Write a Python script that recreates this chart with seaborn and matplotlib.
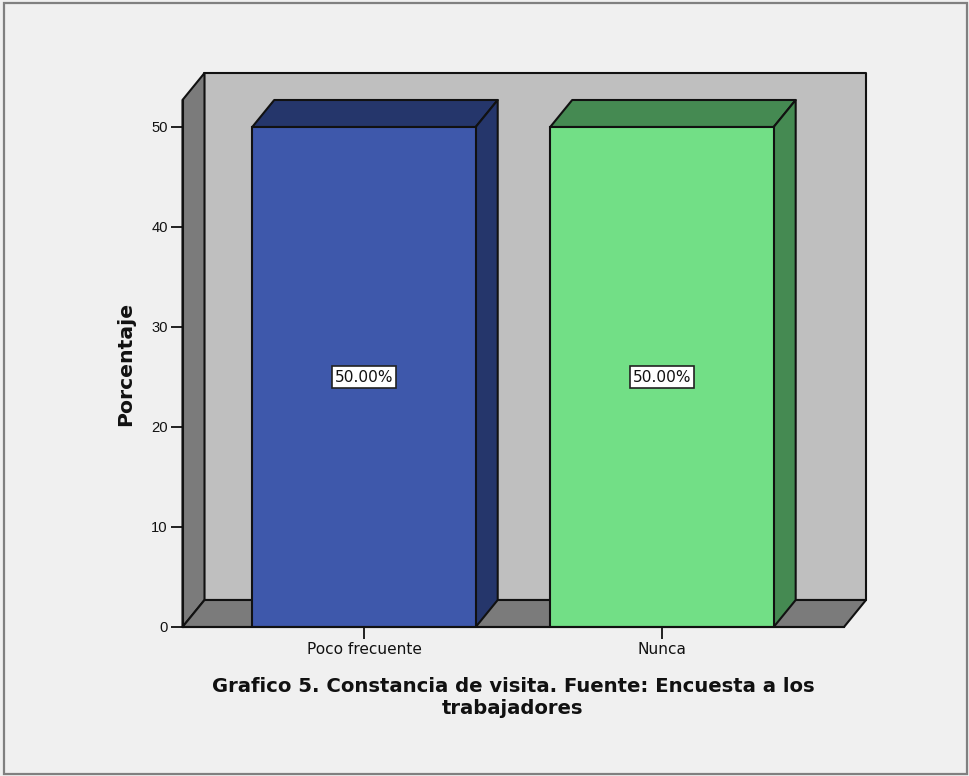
import matplotlib
matplotlib.use("Agg")
import matplotlib.pyplot as plt
from matplotlib.patches import Polygon, Rectangle
import pandas as pd
import seaborn as sns

categories = ["Poco frecuente", "Nunca"]
percentages = [50.0, 50.0]
front_colors = ["#3E58AB", "#72DF86"]
side_colors = ["#25366B", "#458A52"]
y_ticks = [0, 10, 20, 30, 40, 50]
y_label = "Porcentaje"
caption = "Grafico 5. Constancia de visita. Fuente: Encuesta a los\ntrabajadores"

PANEL_BG = "#F0F0F0"
WALL_BACK = "#BFBFBF"
WALL_DARK = "#7B7B7B"
INK = "#111111"
WIDE_FONT = "DejaVu Sans"

W, H = 969, 776
LEFT, RIGHT, BOTTOM, TOP = 182.5, 844.0, 627.0, 100.0
# Oblique depth of the pseudo-3D box, in data units
DEPTH_X = 22 / 298
DEPTH_Y = 2.7

sns.set_theme(style="white")
plt.rcParams["font.family"] = ["Liberation Sans", "DejaVu Sans"]

fig = plt.figure(figsize=(W / 100, H / 100), dpi=100, facecolor=PANEL_BG)
fig.add_artist(Rectangle((3.5 / W, 2.5 / H), (W - 6) / W, (H - 5) / H,
                         transform=fig.transFigure, facecolor="none",
                         edgecolor="#808080", linewidth=1.6))

ax = fig.add_axes([LEFT / W, 1 - BOTTOM / H, (RIGHT - LEFT) / W, (BOTTOM - TOP) / H])
ax.patch.set_alpha(0)

df = pd.DataFrame({"categoria": categories, "porcentaje": percentages})
sns.barplot(data=df, x="categoria", y="porcentaje", hue="categoria",
            palette=front_colors, width=0.75, legend=False, saturation=1,
            edgecolor=INK, linewidth=1.5, ax=ax, zorder=3)

x0, x1 = -0.609, 1.611
y0, y1 = 0, 52.7
ax.set_xlim(x0, x1)
ax.set_ylim(y0, y1)


def face(points, color, zorder):
    ax.add_patch(Polygon(points, closed=True, facecolor=color, edgecolor=INK,
                         linewidth=1.5, joinstyle="round", clip_on=False, zorder=zorder))


# Box walls behind the bars
face([(x0 + DEPTH_X, y0 + DEPTH_Y), (x1 + DEPTH_X, y0 + DEPTH_Y),
      (x1 + DEPTH_X, y1 + DEPTH_Y), (x0 + DEPTH_X, y1 + DEPTH_Y)], WALL_BACK, 0.5)
face([(x0, y0), (x0 + DEPTH_X, y0 + DEPTH_Y),
      (x0 + DEPTH_X, y1 + DEPTH_Y), (x0, y1)], WALL_DARK, 0.6)
face([(x0, y0), (x1, y0), (x1 + DEPTH_X, y0 + DEPTH_Y),
      (x0 + DEPTH_X, y0 + DEPTH_Y)], WALL_DARK, 0.6)

# Top and side faces of each bar, then its value label
for bar, side, value in zip(ax.patches[:len(categories)], side_colors, percentages):
    bx0, bx1 = bar.get_x(), bar.get_x() + bar.get_width()
    face([(bx0, value), (bx1, value), (bx1 + DEPTH_X, value + DEPTH_Y),
          (bx0 + DEPTH_X, value + DEPTH_Y)], side, 2)
    face([(bx1, 0), (bx1 + DEPTH_X, DEPTH_Y), (bx1 + DEPTH_X, value + DEPTH_Y),
          (bx1, value)], side, 2)
    ax.text((bx0 + bx1) / 2, value / 2, f"{value:.2f}%", ha="center", va="center",
            fontsize=11.1, family=WIDE_FONT, color=INK, zorder=5,
            bbox=dict(boxstyle="square,pad=0.2", facecolor="white",
                      edgecolor="#222222", linewidth=1.2))

ax.set_yticks(y_ticks)
ax.set_xlabel("")
ax.set_ylabel("")
ax.tick_params(axis="both", which="major", left=True, bottom=True, length=8.5, width=1.3,
               color=INK, labelcolor=INK, labelsize=10.6, pad=2)
ax.tick_params(axis="x", pad=2.5, labelsize=11.1)
for label in ax.get_xticklabels():
    label.set_family(WIDE_FONT)
for name in ("top", "right"):
    ax.spines[name].set_visible(False)
for name in ("left", "bottom"):
    ax.spines[name].set_color(INK)
    ax.spines[name].set_linewidth(1.5)
    ax.spines[name].set_zorder(4)

fig.text(126 / W, 1 - 364 / H, y_label, rotation=90, ha="center", va="center",
         fontsize=14.7, fontweight="bold", family=WIDE_FONT, color=INK)
fig.text(513 / W, 1 - 697.5 / H, caption, ha="center", va="center", fontsize=14.1,
         fontweight="bold", family=WIDE_FONT, color=INK, linespacing=1.25)

fig.savefig("out.png", dpi=100, facecolor=PANEL_BG)
